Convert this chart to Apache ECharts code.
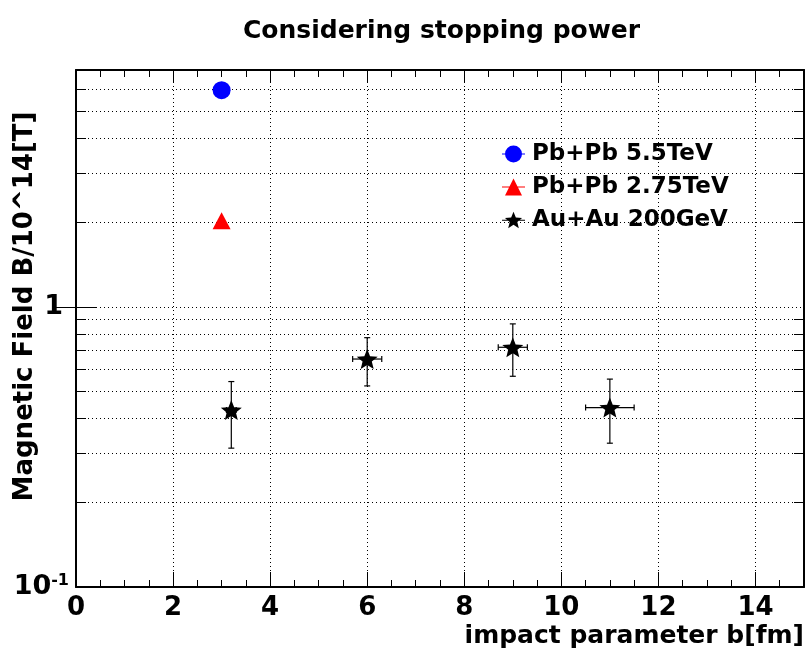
<!DOCTYPE html>
<html>
<head>
<meta charset="utf-8">
<title>Considering stopping power</title>
<script src="https://cdn.jsdelivr.net/npm/echarts@6/dist/echarts.min.js"></script>
<style>
  html, body { margin: 0; padding: 0; background: #fff; }
  #main { width: 807px; height: 651px; }
</style>
</head>
<body>
<div id="main"></div>
<script>
// axis ranges and ticks
var xMin = 0, xMax = 15;
var yMin = 0.1, yMax = 7;
var xLabelValues = [0, 2, 4, 6, 8, 10, 12, 14];
var yLabelValues = [0.1, 1];
var yMajorTicks = [1];
var yMinorTicks = [0.2, 0.3, 0.4, 0.5, 0.6, 0.7, 0.8, 0.9, 2, 3, 4, 5, 6];

// data
var pbpb55 = [[3, 5.93]];
var pbpb275 = [[3, 2.03]];
var auauX = [3.2, 6, 9, 11];
var auauY = [0.428, 0.651, 0.717, 0.437];
var auauXErr = [0.1, 0.3, 0.3, 0.5];
var auauYLow = [0.313, 0.522, 0.565, 0.326];
var auauYHigh = [0.541, 0.776, 0.869, 0.552];

var names = ['Pb+Pb 5.5TeV', 'Pb+Pb 2.75TeV', 'Au+Au 200GeV'];

var FONT = 'DejaVu Sans';
var starPath = 'path://M50,0L62.9,32.2L97.6,34.5L70.9,56.8L79.4,90.5L50,72L20.6,90.5L29.1,56.8L2.4,34.5L37.1,32.2Z';
var iconCircle = 'path://M0,17H46V19H0Z M40,18A17,17 0 1 1 6,18A17,17 0 1 1 40,18Z';
var iconTriangle = 'path://M0,17H46V19H0Z M23,1L40,35H6Z';
var iconStar = 'path://M0,17H46V19H0Z M23,1L27.7,12.5L40.1,13.4L30.6,21.5L33.6,33.6L23,27L12.4,33.6L15.4,21.5L5.9,13.4L18.3,12.5Z';

var auauPts = [], auauErr = [];
for (var i = 0; i < auauX.length; i++) {
  auauPts.push([auauX[i], auauY[i]]);
  auauErr.push([auauX[i], auauY[i], auauXErr[i], auauYLow[i], auauYHigh[i]]);
}

function renderErr(params, api) {
  var x = api.value(0), y = api.value(1), xe = api.value(2);
  var lo = api.coord([x, api.value(3)]);
  var hi = api.coord([x, api.value(4)]);
  var l = api.coord([x - xe, y]);
  var r = api.coord([x + xe, y]);
  var c = 3;
  var st = { stroke: '#000', lineWidth: 1.2 };
  return {
    type: 'group',
    children: [
      { type: 'line', shape: { x1: lo[0], y1: lo[1], x2: hi[0], y2: hi[1] }, style: st },
      { type: 'line', shape: { x1: lo[0] - c, y1: lo[1], x2: lo[0] + c, y2: lo[1] }, style: st },
      { type: 'line', shape: { x1: hi[0] - c, y1: hi[1], x2: hi[0] + c, y2: hi[1] }, style: st },
      { type: 'line', shape: { x1: l[0], y1: l[1], x2: r[0], y2: r[1] }, style: st },
      { type: 'line', shape: { x1: l[0], y1: l[1] - c, x2: l[0], y2: l[1] + c }, style: st },
      { type: 'line', shape: { x1: r[0], y1: r[1] - c, x2: r[0], y2: r[1] + c }, style: st }
    ]
  };
}

var dotted = { color: '#000', width: 1, type: [1, 3] };
var frame = { show: true, onZero: false, lineStyle: { color: '#000', width: 2 } };
var noLine = { show: false };

var chart = echarts.init(document.getElementById('main'));
var option = {
  backgroundColor: '#fff',
  animation: false,
  title: {
    text: 'Considering stopping power',
    left: 243, top: 19, padding: 0,
    textStyle: { fontFamily: FONT, fontWeight: 'bold', fontSize: 25, color: '#000' }
  },
  legend: {
    orient: 'vertical',
    left: 497, top: 137,
    itemWidth: 23, itemHeight: 17, itemGap: 9,
    textStyle: { fontFamily: FONT, fontWeight: 'bold', fontSize: 23, color: '#000', lineHeight: 24, padding: [0, 0, 0, 2] },
    data: [
      { name: names[0], icon: iconCircle },
      { name: names[1], icon: iconTriangle },
      { name: names[2], icon: iconStar }
    ]
  },
  grid: [
    { left: 76, right: 3, top: 70, bottom: 64, outerBoundsMode: 'none' },
    { left: 76, right: 3, top: 70, bottom: 64, outerBoundsMode: 'none' }
  ],
  xAxis: [
    {
      type: 'value', gridIndex: 0, position: 'bottom', min: xMin, max: xMax, interval: 0.5,
      axisLine: frame,
      axisTick: { show: true, inside: true, length: 7, lineStyle: { color: '#000' } },
      axisLabel: {
        customValues: xLabelValues, margin: 8,
        fontFamily: FONT, fontWeight: 'bold', fontSize: 26, color: '#000'
      },
      splitLine: { show: false },
      name: 'impact parameter b[fm]', nameLocation: 'end', nameGap: 0, nameMoveOverlap: false,
      nameTextStyle: { fontFamily: FONT, fontWeight: 'bold', fontSize: 25, color: '#000', align: 'right', verticalAlign: 'top', lineHeight: 25, padding: [37, 0, 0, 0] }
    },
    {
      type: 'value', gridIndex: 0, position: 'top', min: xMin, max: xMax, interval: 0.5,
      axisLine: frame,
      axisTick: { show: true, inside: true, length: 7, lineStyle: { color: '#000' } },
      axisLabel: { show: false }, splitLine: { show: false }
    },
    {
      type: 'value', gridIndex: 1, position: 'bottom', min: xMin, max: xMax, interval: 2,
      axisLine: noLine,
      axisTick: { show: true, inside: true, length: 15, lineStyle: { color: '#000' } },
      axisLabel: { show: false },
      splitLine: { show: true, lineStyle: dotted }
    },
    {
      type: 'value', gridIndex: 1, position: 'top', min: xMin, max: xMax, interval: 2,
      axisLine: noLine,
      axisTick: { show: true, inside: true, length: 13, lineStyle: { color: '#000' } },
      axisLabel: { show: false }, splitLine: { show: false }
    }
  ],
  yAxis: [
    {
      type: 'log', logBase: 10, gridIndex: 0, position: 'left', min: yMin, max: yMax,
      axisLine: frame,
      axisTick: { show: true, inside: true, length: 10, customValues: yMinorTicks, lineStyle: { color: '#000' } },
      axisLabel: {
        customValues: yLabelValues, margin: 7,
        formatter: function (v) { return v < 0.5 ? '{b|10}{s|-1}' : '{b|1}{p|}'; },
        rich: {
          b: { fontFamily: FONT, fontWeight: 'bold', fontSize: 27, color: '#000', lineHeight: 28 },
          s: { fontFamily: FONT, fontWeight: 'bold', fontSize: 16, color: '#000', verticalAlign: 'top', lineHeight: 16 },
          p: { width: 6 }
        }
      },
      splitLine: { show: true, lineStyle: dotted },
      name: 'Magnetic Field B/10^14[T]', nameLocation: 'middle', nameGap: 38, nameRotate: 90, nameMoveOverlap: false,
      nameTextStyle: { fontFamily: FONT, fontWeight: 'bold', fontSize: 26, color: '#000', padding: [0, 0, 0, 44] }
    },
    {
      type: 'log', logBase: 10, gridIndex: 0, position: 'right', min: yMin, max: yMax,
      axisLine: frame,
      axisTick: { show: true, inside: true, length: 10, customValues: yMinorTicks, lineStyle: { color: '#000' } },
      axisLabel: { show: false }, splitLine: { show: false }
    },
    {
      type: 'log', logBase: 10, gridIndex: 1, position: 'left', min: yMin, max: yMax,
      axisLine: noLine,
      axisTick: { show: true, inside: true, length: 20, customValues: yMajorTicks, lineStyle: { color: '#000' } },
      axisLabel: { show: false },
      splitLine: { show: true, lineStyle: dotted }
    },
    {
      type: 'log', logBase: 10, gridIndex: 1, position: 'right', min: yMin, max: yMax,
      axisLine: noLine,
      axisTick: { show: true, inside: true, length: 20, customValues: yMajorTicks, lineStyle: { color: '#000' } },
      axisLabel: { show: false }, splitLine: { show: false }
    }
  ],
  series: [
    {
      name: names[0], type: 'scatter', xAxisIndex: 0, yAxisIndex: 0,
      symbol: 'circle', symbolSize: 18, itemStyle: { color: '#0000ff', opacity: 1 },
      data: pbpb55, z: 5
    },
    {
      name: names[1], type: 'scatter', xAxisIndex: 0, yAxisIndex: 0,
      symbol: 'triangle', symbolSize: [18, 17], itemStyle: { color: '#ff0000', opacity: 1 },
      data: pbpb275, z: 5
    },
    {
      name: names[2], type: 'custom', xAxisIndex: 0, yAxisIndex: 0,
      renderItem: renderErr, encode: { x: 0, y: 1 },
      itemStyle: { color: '#000' },
      data: auauErr, z: 4, silent: true
    },
    {
      name: names[2], type: 'scatter', xAxisIndex: 0, yAxisIndex: 0,
      symbol: starPath, symbolSize: [21, 20], itemStyle: { color: '#000', opacity: 1 },
      data: auauPts, z: 6
    }
  ]
};
chart.setOption(option);
</script>
</body>
</html>
